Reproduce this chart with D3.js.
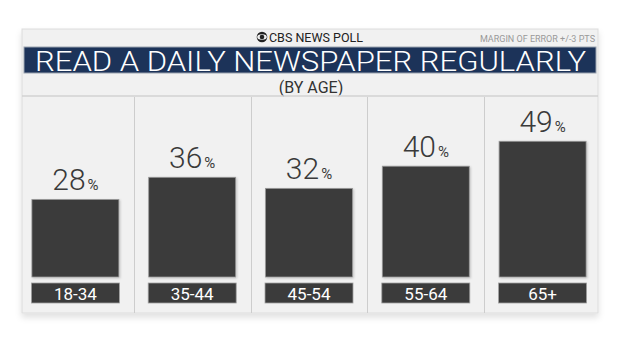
<!DOCTYPE html>
<html>
<head>
<meta charset="utf-8">
<script src="https://cdn.jsdelivr.net/npm/d3@7"></script>
<style>
  body { margin: 0; background: #fff; }
  text { font-family: "Roboto", "Liberation Sans", sans-serif; }
</style>
</head>
<body>
<div id="chart"></div>
<script>
var ages = ["18-34", "35-44", "45-54", "55-64", "65+"];
var values = [28, 36, 32, 40, 49];

var width = 620, height = 349;
var panelL = 22, panelR = 598, panelT = 29, panelB = 313;

var svg = d3.select("#chart").append("svg")
	.attr("width", width)
	.attr("height", height);

var defs = svg.append("defs");
var f = defs.append("filter").attr("id", "shadow")
	.attr("x", "-10%").attr("y", "-10%").attr("width", "120%").attr("height", "130%");
f.append("feDropShadow").attr("dx", 0).attr("dy", 4).attr("stdDeviation", 3)
	.attr("flood-color", "#000").attr("flood-opacity", 0.12);

var bs = defs.append("filter").attr("id", "barshadow")
	.attr("x", "-10%").attr("y", "-10%").attr("width", "130%").attr("height", "130%");
bs.append("feDropShadow").attr("dx", 1).attr("dy", 1).attr("stdDeviation", 1)
	.attr("flood-color", "#000").attr("flood-opacity", 0.2);

// panel
svg.append("rect")
	.attr("x", panelL).attr("y", panelT)
	.attr("width", panelR - panelL).attr("height", panelB - panelT)
	.attr("fill", "#f1f1f1")
	.attr("stroke", "#dcdcdc")
	.attr("filter", "url(#shadow)");

// header
svg.append("text")
	.attr("x", 316).attr("y", 41.5)
	.attr("text-anchor", "middle")
	.attr("font-size", 12.5)
	.attr("fill", "#222")
	.text("CBS NEWS POLL");

// cbs eye
var eye = svg.append("g").attr("transform", "translate(262,37)");
eye.append("circle").attr("r", 5.3).attr("fill", "#222");
eye.append("ellipse").attr("rx", 4.8).attr("ry", 2.7).attr("fill", "#f1f1f1");
eye.append("circle").attr("r", 2.3).attr("fill", "#222");

svg.append("text")
	.attr("x", 595).attr("y", 41.5)
	.attr("text-anchor", "end")
	.attr("font-size", 9)
	.attr("fill", "#999")
	.text("MARGIN OF ERROR +/-3 PTS");

svg.append("rect")
	.attr("x", 24).attr("y", 47)
	.attr("width", 572).attr("height", 26)
	.attr("fill", "#1c3359")
	.attr("stroke", "#9aa3b0")
	.attr("stroke-width", 1);

svg.append("text")
	.attr("x", 35).attr("y", 70.5)
	.attr("font-size", 28)
	.attr("font-weight", 300)
	.attr("fill", "#fff")
	.attr("textLength", 551)
	.attr("lengthAdjust", "spacingAndGlyphs")
	.text("READ A DAILY NEWSPAPER REGULARLY");

svg.append("text")
	.attr("x", 311).attr("y", 92.5)
	.attr("text-anchor", "middle")
	.attr("font-size", 16)
	.attr("fill", "#333")
	.text("(BY AGE)");

svg.append("line")
	.attr("x1", panelL).attr("x2", panelR)
	.attr("y1", 96).attr("y2", 96)
	.attr("stroke", "#d2d2d2").attr("stroke-width", 1.5);

// scales
var x = d3.scaleBand().domain(ages).range([17, 601]);
var y = d3.scaleLinear().domain([0, 100]).range([277, 0]);
var barW = 87;

// column dividers
svg.append("g").selectAll("line")
	.data(ages.slice(1))
	.join("line")
	.attr("x1", function(d) { return Math.round(x(d)) + 0.5; })
	.attr("x2", function(d) { return Math.round(x(d)) + 0.5; })
	.attr("y1", 97).attr("y2", panelB)
	.attr("stroke", "#cdcdcd");

var cols = svg.append("g").selectAll("g")
	.data(ages)
	.join("g")
	.attr("transform", function(d) { return "translate(" + (x(d) + x.bandwidth() / 2) + ",0)"; });

cols.append("rect")
	.attr("x", -barW / 2)
	.attr("y", function(d, i) { return y(values[i]); })
	.attr("width", barW)
	.attr("height", function(d, i) { return y(0) - y(values[i]); })
	.attr("fill", "#3b3b3b")
	.attr("stroke", "#9a9a9a")
	.attr("stroke-width", 0.8)
	.attr("filter", "url(#barshadow)");

var lab = cols.append("text")
	.attr("y", function(d, i) { return y(values[i]) - 9; })
	.attr("text-anchor", "middle")
	.attr("fill", "#3a3a3a");
lab.append("tspan")
	.attr("font-size", 30)
	.attr("font-weight", 300)
	.text(function(d, i) { return values[i]; });
lab.append("tspan")
	.attr("font-size", 15)
	.attr("dx", 2)
	.text("%");

cols.append("rect")
	.attr("x", -barW / 2 - 0.5)
	.attr("y", 283)
	.attr("width", barW + 1)
	.attr("height", 20)
	.attr("fill", "#3b3b3b")
	.attr("stroke", "#a0a0a0")
	.attr("stroke-width", 0.8);

cols.append("text")
	.attr("y", 300)
	.attr("text-anchor", "middle")
	.attr("font-size", 17)
	.attr("fill", "#fff")
	.text(function(d) { return d; });
</script>
</body>
</html>
